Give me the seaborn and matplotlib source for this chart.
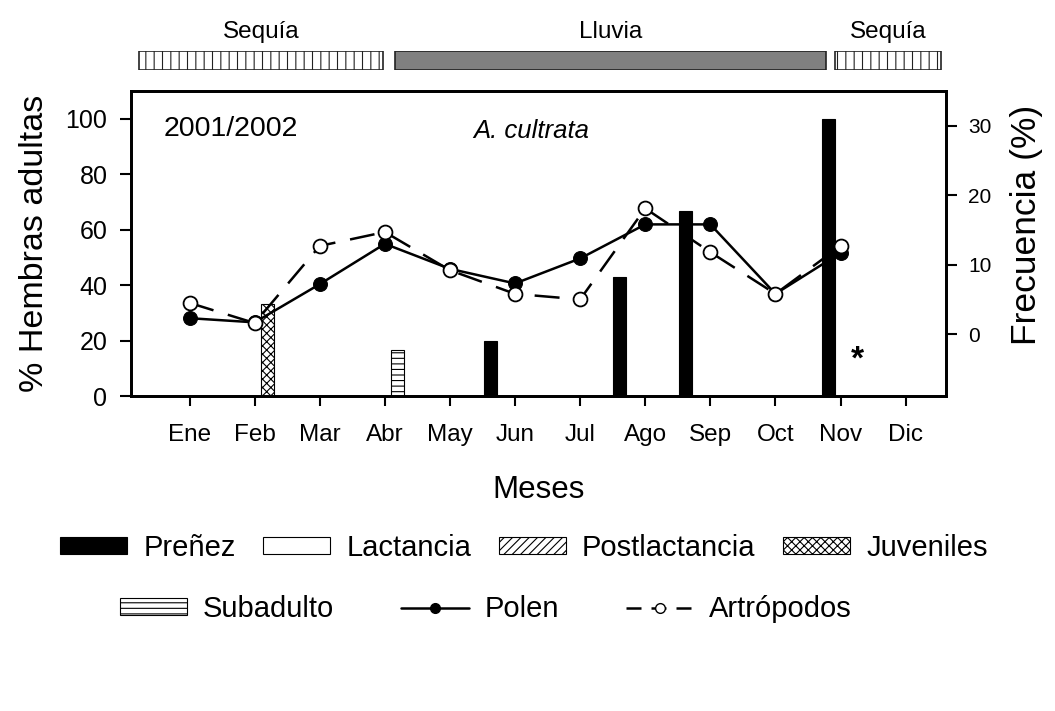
import numpy as np
import pandas as pd
import matplotlib
matplotlib.use("Agg")
import matplotlib.pyplot as plt
from matplotlib.patches import Patch
from matplotlib.lines import Line2D
import seaborn as sns

sns.set_theme(style="white")
plt.rcParams["font.family"] = ["Liberation Sans", "DejaVu Sans"]
plt.rcParams.update({
    "hatch.linewidth": 0.8,
    "text.color": "black",
    "axes.labelcolor": "black",
    "xtick.color": "black",
    "ytick.color": "black",
})

# ---- data ----
months = ["Ene", "Feb", "Mar", "Abr", "May", "Jun",
          "Jul", "Ago", "Sep", "Oct", "Nov", "Dic"]

# diet frequency (%), Jan-Nov
polen = [2.3, 1.7, 7.2, 13.0, 9.4, 7.3, 10.9, 15.8, 15.8, 5.8, 11.7]
artropodos = [4.5, 1.6, 12.7, 14.7, 9.2, 5.8, 5.0, 18.1, 11.8, 5.8, 12.7]

# reproductive state of adult females (%), placed on the month scale
bar_state = ["Juveniles", "Subadulto", "Preñez", "Preñez", "Preñez", "Preñez"]
bar_x = [1.2, 3.19, 4.62, 6.6, 7.62, 9.82]
bar_value = [33.3, 16.7, 20.0, 42.9, 66.7, 100.0]

# seasons along the month scale
season_label = ["Sequía", "Lluvia", "Sequía"]
season_start = [-0.78, 3.15, 9.92]
season_end = [2.97, 9.78, 11.55]

state_style = {
    "Preñez": dict(facecolor="black", hatch=None),
    "Lactancia": dict(facecolor="white", hatch=None),
    "Postlactancia": dict(facecolor="white", hatch="////"),
    "Juveniles": dict(facecolor="white", hatch="xxxx"),
    "Subadulto": dict(facecolor="white", hatch="---"),
}

W, H = 1055, 711
fig = plt.figure(figsize=(W / 100, H / 100), dpi=100)
ax = fig.add_axes([131 / W, 1 - 396 / H, 815 / W, 305 / H])
ax_top = fig.add_axes([131 / W, 1 - 70 / H, 815 / W, 19 / H], sharex=ax)

# ---- bars (left axis) ----
for st, x, v in zip(bar_state, bar_x, bar_value):
    s = state_style[st]
    ax.bar(x, v, width=0.2, color=s["facecolor"], edgecolor="black",
           hatch=s["hatch"], linewidth=0.8, zorder=2)

ax.set_xlim(-0.9, 11.62)
ax.set_ylim(0, 110)
ax.set_yticks(np.arange(0, 101, 20))
ax.set_xticks(range(12))
ax.set_xticklabels(months)
ax.tick_params(axis="x", direction="out", length=7, width=1.5, labelsize=17.5,
               pad=13, bottom=True)
ax.tick_params(axis="y", direction="out", length=8, width=1.5, labelsize=18,
               left=True, pad=9)
ax.set_ylabel("% Hembras adultas", fontsize=24.5, labelpad=11)
ax.set_xlabel("Meses", fontsize=22.5, labelpad=21)
for sp in ax.spines.values():
    sp.set_linewidth(2)
    sp.set_color("black")

# ---- diet lines (right axis) ----
ax2 = ax.twinx()
df = pd.DataFrame({
    "mes": list(range(len(polen))) * 2,
    "frecuencia": polen + artropodos,
    "item": ["Polen"] * len(polen) + ["Artrópodos"] * len(artropodos),
})
sns.lineplot(data=df[df.item == "Polen"], x="mes", y="frecuencia", ax=ax2,
             color="black", lw=1.8, marker="o", markersize=10,
             markerfacecolor="black", markeredgecolor="black", legend=False)
sns.lineplot(data=df[df.item == "Artrópodos"], x="mes", y="frecuencia", ax=ax2,
             color="black", lw=1.8, marker="o", markersize=10,
             markerfacecolor="white", markeredgecolor="black",
             markeredgewidth=1.3, legend=False)
ax2.lines[-1].set_dashes([10, 6])
ax2.set_ylim(-8.9, 35)
ax2.set_yticks([0, 10, 20, 30])
ax2.tick_params(axis="y", direction="out", length=8, width=1.5, labelsize=15,
                right=True, pad=8)
ax2.set_ylabel("Frecuencia (%)", fontsize=25.5, labelpad=12)
ax2.yaxis.set_label_coords(1.078, 0.56)
ax2.set_xlabel("")
for sp in ax2.spines.values():
    sp.set_linewidth(2)
    sp.set_color("black")
ax2.grid(False)
ax.grid(False)

# ---- annotations ----
ax.text(0.04, 0.875, "2001/2002", transform=ax.transAxes, fontsize=20.5,
        va="center", ha="left")
ax.text(0.491, 0.87, "A. cultrata", transform=ax.transAxes, fontsize=18.5,
        style="italic", va="center", ha="center")
ax.text(10.26, 13, "*", fontsize=24, fontweight="bold", ha="center",
        va="center")

# ---- season band ----
for lab, s0, s1 in zip(season_label, season_start, season_end):
    if lab == "Lluvia":
        ax_top.barh(0, s1 - s0, left=s0, height=1, color="#808080",
                    edgecolor="#222222", linewidth=1.2)
    else:
        ax_top.barh(0, s1 - s0, left=s0, height=1, color="white",
                    edgecolor="#222222", hatch="||", linewidth=1.2)
    ax_top.annotate(lab, xy=((s0 + s1) / 2, 0.5), xycoords="data",
                    xytext=(0, 6), textcoords="offset points",
                    ha="center", va="bottom", fontsize=17.5)
ax_top.set_ylim(-0.5, 0.5)
ax_top.axis("off")

# ---- legend ----
def patch(st):
    s = state_style[st]
    return Patch(facecolor=s["facecolor"], edgecolor="black",
                 hatch=s["hatch"], linewidth=0.8, label=st)

row1 = [patch(s) for s in ["Preñez", "Lactancia", "Postlactancia", "Juveniles"]]
row2 = [patch("Subadulto"),
        Line2D([], [], color="black", lw=1.8, marker="o", markersize=7,
               markerfacecolor="black", label="Polen"),
        Line2D([], [], color="black", lw=1.8, marker="o", markersize=7,
               markerfacecolor="white", dashes=[6, 4], label="Artrópodos")]

leg_kw = dict(frameon=False, fontsize=21, handlelength=2.3,
              handleheight=0.5, handletextpad=0.55, borderpad=0, loc="center")
fig.legend(handles=row1, ncol=4, columnspacing=0.95,
           bbox_to_anchor=(524 / W, 1 - 548 / H), **leg_kw)
fig.legend(handles=row2, ncol=3, columnspacing=2.3,
           bbox_to_anchor=(486 / W, 1 - 609 / H), **leg_kw)

fig.savefig("out.png", dpi=100)
